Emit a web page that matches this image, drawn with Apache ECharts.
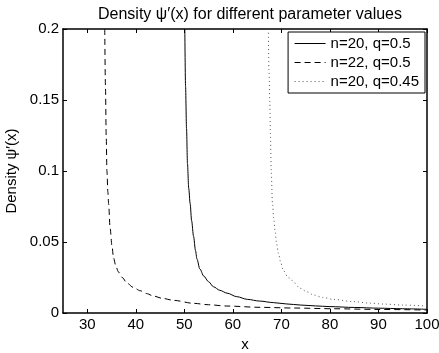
<!DOCTYPE html>
<html>
<head>
<meta charset="utf-8">
<script src="https://cdn.jsdelivr.net/npm/echarts@6/dist/echarts.min.js"></script>
<style>
html, body { margin: 0; padding: 0; background: #fff; }
#chart { width: 439px; height: 353px; }
</style>
</head>
<body>
<div id="chart"></div>
<script>
// values (x, density)
var xTicks = [30, 40, 50, 60, 70, 80, 90, 100];

var n20q50X = [50.1, 50.25, 50.45, 50.65, 50.9, 51.2, 51.5, 51.9, 52.3, 52.6, 53.2, 54, 55, 56, 57.3, 58.8, 60.8, 63, 65.5, 68.4, 71, 74, 77, 80, 85, 90, 95, 100];
var n20q50Y = [0.2, 0.16, 0.13, 0.105, 0.088, 0.077, 0.065, 0.054, 0.044, 0.038, 0.031, 0.026, 0.022, 0.0185, 0.016, 0.014, 0.0115, 0.0096, 0.0084, 0.0073, 0.0064, 0.0056, 0.005, 0.0045, 0.0039, 0.0034, 0.003, 0.0026];

var n22q50X = [33.6, 33.75, 33.9, 34.05, 34.25, 34.4, 34.7, 35.1, 35.4, 35.9, 36.4, 37.2, 38.2, 39.5, 40.9, 42.2, 43.6, 45.5, 47.8, 51.9, 55, 58.8, 65.6, 72.5, 80.7, 90, 100];
var n22q50Y = [0.2, 0.16, 0.125, 0.1, 0.085, 0.077, 0.06, 0.047, 0.039, 0.033, 0.029, 0.025, 0.021, 0.018, 0.0157, 0.0137, 0.012, 0.0103, 0.0089, 0.0068, 0.0058, 0.0049, 0.004, 0.0035, 0.003, 0.0025, 0.0021];

var n20q45X = [67.3, 67.45, 67.6, 67.75, 67.9, 68.15, 68.4, 68.7, 69.0, 69.4, 69.9, 70.4, 71.2, 72.1, 73.9, 75.2, 76.6, 78.5, 80.7, 84.8, 88, 91, 95, 100];
var n20q45Y = [0.2, 0.17, 0.15, 0.125, 0.1, 0.078, 0.067, 0.058, 0.049, 0.042, 0.035, 0.03, 0.026, 0.023, 0.0174, 0.015, 0.0127, 0.011, 0.0096, 0.008, 0.007, 0.0063, 0.0056, 0.0049];

function pairs(xs, ys) {
	var out = [];
	for (var i = 0; i < xs.length; i++) out.push([xs[i], ys[i]]);
	return out;
}

var font = 'Liberation Sans, Arial, Helvetica, sans-serif';
var axisLine = { show: true, onZero: false, lineStyle: { color: '#000', width: 1.5 } };

var chart = echarts.init(document.getElementById('chart'));
var option = {
	animation: false,
	backgroundColor: '#fff',
	title: {
		text: 'Density \u03c8\u2032(x) for different parameter values',
		left: 245, top: 2, textAlign: 'center',
		textStyle: { fontFamily: font, fontSize: 16, fontWeight: 'normal', color: '#000' }
	},
	grid: { left: 63, right: 12, top: 29, bottom: 40, outerBoundsMode: 'none', containLabel: false },
	legend: {
		orient: 'vertical',
		right: 14, top: 32,
		padding: [4, 6, 4, 6],
		itemGap: 4,
		itemWidth: 31, itemHeight: 17,
		borderColor: '#000', borderWidth: 1,
		backgroundColor: '#fff',
		itemStyle: { opacity: 0 },
		lineStyle: { width: 1 },
		textStyle: { fontFamily: font, fontSize: 15, color: '#000' },
		data: ['n=20, q=0.5', 'n=22, q=0.5', 'n=20, q=0.45']
	},
	xAxis: [{
		type: 'value', min: 25, max: 100,
		name: 'x', nameLocation: 'middle', nameGap: 23,
		nameTextStyle: { fontFamily: font, fontSize: 15, color: '#000' },
		axisLine: axisLine,
		axisTick: { inside: true, length: 4, customValues: xTicks, lineStyle: { color: '#000' } },
		axisLabel: { customValues: xTicks, fontFamily: font, fontSize: 15, color: '#000', margin: 4 },
		splitLine: { show: false }
	}, {
		type: 'value', min: 25, max: 100, position: 'top',
		axisLine: axisLine,
		axisTick: { inside: true, length: 4, customValues: xTicks, lineStyle: { color: '#000' } },
		axisLabel: { show: false },
		splitLine: { show: false }
	}],
	yAxis: [{
		type: 'value', min: 0, max: 0.2, interval: 0.05,
		name: 'Density \u03c8\u2032(x)', nameLocation: 'middle', nameGap: 38,
		nameTextStyle: { fontFamily: font, fontSize: 15, color: '#000' },
		axisLine: axisLine,
		axisTick: { inside: true, length: 4, lineStyle: { color: '#000' } },
		axisLabel: { fontFamily: font, fontSize: 15, color: '#000', margin: 4 },
		splitLine: { show: false }
	}, {
		type: 'value', min: 0, max: 0.2, interval: 0.05, position: 'right',
		axisLine: axisLine,
		axisTick: { inside: true, length: 4, lineStyle: { color: '#000' } },
		axisLabel: { show: false },
		splitLine: { show: false }
	}],
	series: [{
		name: 'n=20, q=0.5', type: 'line', symbol: 'none', clip: true,
		smooth: 0.3, smoothMonotone: 'x',
		lineStyle: { color: '#000', width: 1, type: 'solid' },
		itemStyle: { color: '#000' },
		data: pairs(n20q50X, n20q50Y)
	}, {
		name: 'n=22, q=0.5', type: 'line', symbol: 'none', clip: true,
		smooth: 0.3, smoothMonotone: 'x',
		lineStyle: { color: '#000', width: 1, type: [6, 4] },
		itemStyle: { color: '#000' },
		data: pairs(n22q50X, n22q50Y)
	}, {
		name: 'n=20, q=0.45', type: 'line', symbol: 'none', clip: true,
		smooth: 0.3, smoothMonotone: 'x',
		lineStyle: { color: '#555', width: 1, type: [1, 3] },
		itemStyle: { color: '#555' },
		data: pairs(n20q45X, n20q45Y)
	}]
};
chart.setOption(option);
</script>
</body>
</html>
